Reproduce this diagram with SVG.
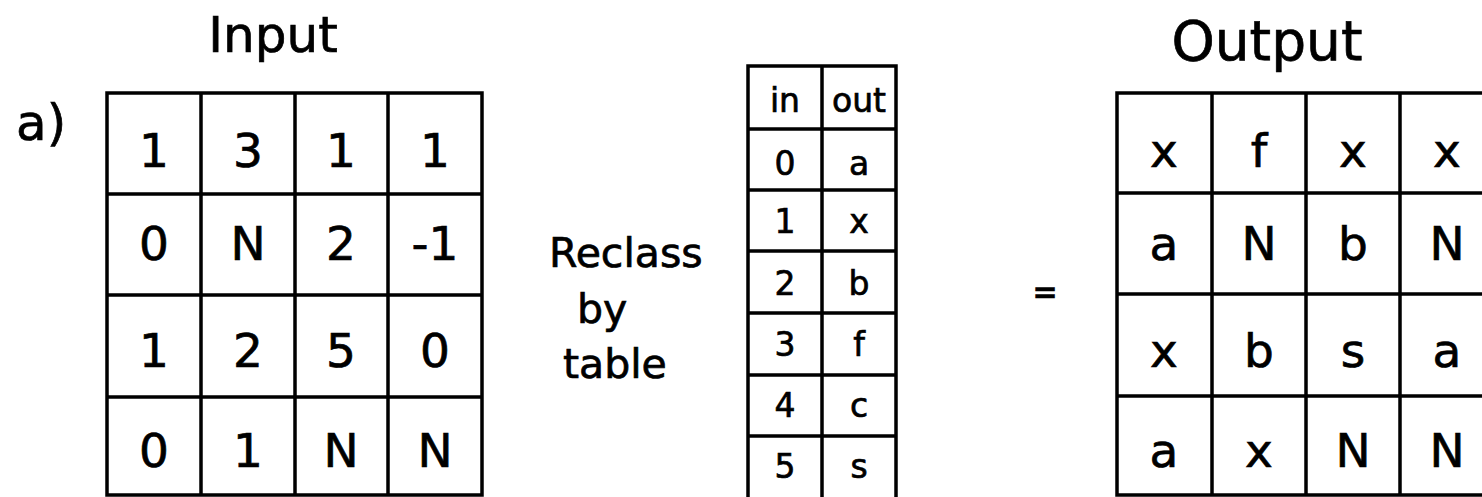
<svg xmlns="http://www.w3.org/2000/svg" width="1482" height="497" viewBox="0 0 1482 497">
<style>
text{font-family:"DejaVu Sans","Liberation Sans",sans-serif;fill:#000;stroke:#000;stroke-width:0.7;text-anchor:middle}
.grid{fill:none;stroke:#000;stroke-width:3.5}
.title{font-size:50px}
.cell{font-size:47px}
.tcell{font-size:33px}
.lbl{font-size:41px;text-anchor:start}
</style>
<rect width="1482" height="497" fill="#fff"/>
<g id="label-a"><text x="16" y="140" class="title" style="text-anchor:start">a)</text></g>
<g id="input">
<text x="273" y="52" class="title">Input</text>
<path class="grid" d="M107 93H482V495H107Z M201 93V495 M295 93V495 M388 93V495 M107 194H482 M107 295H482 M107 397H482"/>
<g class="cell">
<text x="154" y="167">1</text><text x="248" y="167">3</text><text x="341" y="167">1</text><text x="435" y="167">1</text>
<text x="154" y="260">0</text><text x="248" y="260">N</text><text x="341" y="260">2</text><text x="435" y="260">-1</text>
<text x="154" y="367">1</text><text x="248" y="367">2</text><text x="341" y="367">5</text><text x="435" y="367">0</text>
<text x="154" y="467">0</text><text x="248" y="467">1</text><text x="341" y="467">N</text><text x="435" y="467">N</text>
</g>
</g>
<g id="reclass-label">
<text x="549" y="267" class="lbl">Reclass</text>
<text x="577" y="323" class="lbl">by</text>
<text x="563" y="378" class="lbl">table</text>
</g>
<g id="table">
<path class="grid" d="M748 66H896V499H748Z M822 66V499 M748 129H896 M748 190H896 M748 251H896 M748 313H896 M748 375H896 M748 436H896"/>
<g class="tcell">
<text x="785" y="112">in</text><text x="859" y="112">out</text>
<text x="785" y="175">0</text><text x="859" y="175">a</text>
<text x="785" y="233">1</text><text x="859" y="233">x</text>
<text x="785" y="295">2</text><text x="859" y="295">b</text>
<text x="785" y="356">3</text><text x="859" y="356">f</text>
<text x="785" y="417">4</text><text x="859" y="417">c</text>
<text x="785" y="478">5</text><text x="859" y="478">s</text>
</g>
</g>
<g id="equals"><text x="1045" y="302" style="font-size:30px;font-weight:bold">=</text></g>
<g id="output">
<text x="1267" y="60" style="font-size:55px">Output</text>
<path class="grid" d="M1117 93H1494V495H1117Z M1212 93V495 M1306 93V495 M1400 93V495 M1117 193H1494 M1117 294H1494 M1117 396H1494"/>
<g class="cell">
<text x="1164" y="167">x</text><text x="1259" y="167">f</text><text x="1353" y="167">x</text><text x="1447" y="167">x</text>
<text x="1164" y="260">a</text><text x="1259" y="260">N</text><text x="1353" y="260">b</text><text x="1447" y="260">N</text>
<text x="1164" y="367">x</text><text x="1259" y="367">b</text><text x="1353" y="367">s</text><text x="1447" y="367">a</text>
<text x="1164" y="467">a</text><text x="1259" y="467">x</text><text x="1353" y="467">N</text><text x="1447" y="467">N</text>
</g>
</g>
<g id="connectors"/>
</svg>
